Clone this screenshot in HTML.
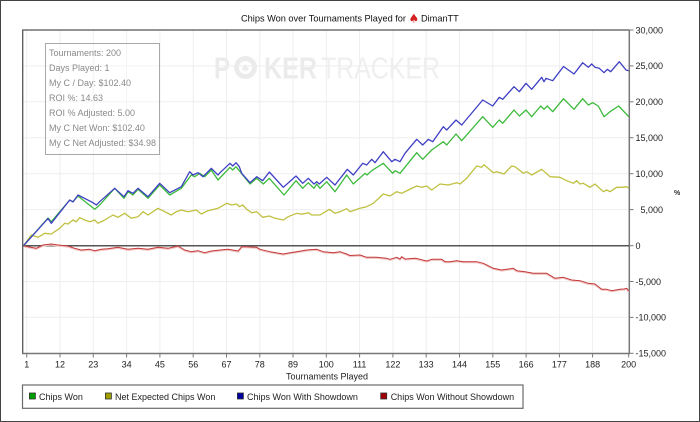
<!DOCTYPE html>
<html><head><meta charset="utf-8"><style>
html,body{margin:0;padding:0;background:#fff;}
svg{display:block;font-family:"Liberation Sans",Arial,sans-serif;}
</style></head><body>
<svg width="700" height="422" viewBox="0 0 700 422" xmlns="http://www.w3.org/2000/svg">
<rect x="0" y="0" width="700" height="422" fill="#fff"/>
<rect x="0.5" y="0.5" width="699" height="421" fill="none" stroke="#444" stroke-width="1"/>

<!-- title -->
<text x="241" y="21.5" font-size="9.2" fill="#111" textLength="165" lengthAdjust="spacingAndGlyphs">Chips Won over Tournaments Played for</text>
<text x="408.5" y="22.5" font-size="12" fill="#d42020" font-family="DejaVu Sans, sans-serif">♠</text>
<text x="421" y="21.5" font-size="9.2" fill="#111">DimanTT</text>

<!-- watermark -->
<g fill="#ebebeb">
<text x="214" y="78.7" font-size="31" font-weight="bold" textLength="16" lengthAdjust="spacingAndGlyphs">P</text>
<circle cx="245.5" cy="67.5" r="11.5" fill="#ebebeb"/>
<circle cx="245.5" cy="67.5" r="6.5" fill="#fff"/>
<text x="240.5" y="72" font-size="11" fill="#ebebeb" font-family="DejaVu Sans, sans-serif">♠</text>
<text x="264" y="78.7" font-size="31" font-weight="bold" textLength="53" lengthAdjust="spacingAndGlyphs">KER</text>
<text x="321" y="78.7" font-size="31" fill="#efefef" textLength="119" lengthAdjust="spacingAndGlyphs">TRACKER</text>
</g>

<!-- gridlines -->
<g stroke="#eeeeee" stroke-width="1">
<line x1="26.7" y1="30" x2="26.7" y2="353"/>
<line x1="60" y1="30" x2="60" y2="353"/>
<line x1="93.3" y1="30" x2="93.3" y2="353"/>
<line x1="126.6" y1="30" x2="126.6" y2="353"/>
<line x1="159.9" y1="30" x2="159.9" y2="353"/>
<line x1="193.2" y1="30" x2="193.2" y2="353"/>
<line x1="226.5" y1="30" x2="226.5" y2="353"/>
<line x1="259.8" y1="30" x2="259.8" y2="353"/>
<line x1="293" y1="30" x2="293" y2="353"/>
<line x1="326.3" y1="30" x2="326.3" y2="353"/>
<line x1="359.6" y1="30" x2="359.6" y2="353"/>
<line x1="392.9" y1="30" x2="392.9" y2="353"/>
<line x1="426.2" y1="30" x2="426.2" y2="353"/>
<line x1="459.5" y1="30" x2="459.5" y2="353"/>
<line x1="492.8" y1="30" x2="492.8" y2="353"/>
<line x1="526.1" y1="30" x2="526.1" y2="353"/>
<line x1="559.4" y1="30" x2="559.4" y2="353"/>
<line x1="592.6" y1="30" x2="592.6" y2="353"/>
<line x1="23" y1="65.9" x2="629" y2="65.9"/>
<line x1="23" y1="101.8" x2="629" y2="101.8"/>
<line x1="23" y1="137.7" x2="629" y2="137.7"/>
<line x1="23" y1="173.7" x2="629" y2="173.7"/>
<line x1="23" y1="209.6" x2="629" y2="209.6"/>
<line x1="23" y1="281.5" x2="629" y2="281.5"/>
<line x1="23" y1="317.4" x2="629" y2="317.4"/>
</g>

<!-- stats box -->
<rect x="45.5" y="43.5" width="114" height="111" fill="#fff" fill-opacity="0.35" stroke="#a8a8a8" stroke-width="1"/>
<g font-size="9" fill="#8a8a8a">
<text x="49" y="56">Tournaments: 200</text>
<text x="49" y="71">Days Played: 1</text>
<text x="49" y="86">My C / Day: $102.40</text>
<text x="49" y="101">ROI %: 14.63</text>
<text x="49" y="116">ROI % Adjusted: 5.00</text>
<text x="49" y="131">My C Net Won: $102.40</text>
<text x="49" y="146">My C Net Adjusted: $34.98</text>
</g>

<!-- frame -->
<line x1="22.5" y1="30" x2="629.3" y2="30" stroke="#555" stroke-width="1.2"/>
<line x1="22.7" y1="29.5" x2="22.7" y2="354" stroke="#555" stroke-width="1.3"/>
<line x1="22" y1="353.5" x2="630" y2="353.5" stroke="#777" stroke-width="1.5"/>
<line x1="629.3" y1="29.5" x2="629.3" y2="354" stroke="#777" stroke-width="1.5"/>
<line x1="22.5" y1="245.7" x2="629.3" y2="245.7" stroke="#555" stroke-width="1.5"/>

<!-- red series -->
<polyline fill="none" stroke="#f0c4c4" stroke-width="2" stroke-linejoin="round" transform="translate(0,0.6)" points="23.5,245.7 28,246.7 36.3,248.3 43,245 51.3,244 58,245 68,246 74.7,248.3 81.3,250 89.7,249.3 94.7,250.7 101.3,249.3 108,248.7 118,247.3 128,249.3 138,248.3 148,249.3 158,247.3 168,248.3 178,246 184.7,250 191.3,251.7 198,250.7 204.7,252.7 211.3,251 220,250 228,249.3 238.3,251 241.7,246.7 246.7,246.7 256.7,247.3 260,249.3 270,251.7 283.3,254 290,252.7 296.7,251.7 306.7,250 316.7,249.3 323.3,251.7 333.3,252.7 340,251.7 346.7,254 350,255.5 360,255 366.7,257.3 376.7,257.3 386.7,258.3 390,259.3 396.7,257.3 400,259 401.7,256.7 405,259 415,258.3 420,259.3 426.7,261 431.7,259.3 441.7,259.3 445,261.7 450,261.7 456.7,260.7 463.3,261.7 476.7,261.7 483.3,263.3 493.3,268.3 501.7,270 506.7,269.3 513.3,268.3 516.7,270.7 525,271.7 533.3,273.3 546.7,273.3 555,278.3 563.3,277.3 571.7,280 580,280.7 588.3,283.3 595,284 601.7,289.3 606.7,289.3 611.7,290.7 620,289.3 624,289 626.7,288.3 628.7,291"/>
<polyline fill="none" stroke="#c43c3c" stroke-width="1" stroke-linejoin="round" points="23.5,245.7 28,246.7 36.3,248.3 43,245 51.3,244 58,245 68,246 74.7,248.3 81.3,250 89.7,249.3 94.7,250.7 101.3,249.3 108,248.7 118,247.3 128,249.3 138,248.3 148,249.3 158,247.3 168,248.3 178,246 184.7,250 191.3,251.7 198,250.7 204.7,252.7 211.3,251 220,250 228,249.3 238.3,251 241.7,246.7 246.7,246.7 256.7,247.3 260,249.3 270,251.7 283.3,254 290,252.7 296.7,251.7 306.7,250 316.7,249.3 323.3,251.7 333.3,252.7 340,251.7 346.7,254 350,255.5 360,255 366.7,257.3 376.7,257.3 386.7,258.3 390,259.3 396.7,257.3 400,259 401.7,256.7 405,259 415,258.3 420,259.3 426.7,261 431.7,259.3 441.7,259.3 445,261.7 450,261.7 456.7,260.7 463.3,261.7 476.7,261.7 483.3,263.3 493.3,268.3 501.7,270 506.7,269.3 513.3,268.3 516.7,270.7 525,271.7 533.3,273.3 546.7,273.3 555,278.3 563.3,277.3 571.7,280 580,280.7 588.3,283.3 595,284 601.7,289.3 606.7,289.3 611.7,290.7 620,289.3 624,289 626.7,288.3 628.7,291"/>

<!-- yellow series -->
<polyline fill="none" stroke="#c0c040" stroke-width="1.3" stroke-linejoin="round" points="23.5,245.7 31.3,235 38,237.3 44.7,233.3 51.3,234 59.7,228.3 64.7,223.3 68,224 73,220 76.3,221.7 79.7,217.7 84.7,220 89.7,221.7 94.7,220 98,223.3 104.7,220 113,215 118,217.3 124.7,213.3 131.3,218.3 138,216.7 143,211.7 148,215 158,208.3 164.7,211.7 171.3,215 176.3,211.7 181.3,210 188,211.7 196.3,210 201.3,214 208,210.7 218,208.3 226.7,203.3 231.7,205 236.7,204 239.3,206.7 242.7,205 246.7,209.3 251.7,212.7 256.7,211.7 262.7,217.3 269.3,216 275,218.3 283.3,220 288.3,216.7 296.7,213.3 301.7,214.3 308.3,212.7 311.7,215 320,215 329.3,209.3 335,213.3 340,211.7 346.7,208.7 350,211.7 360,208.3 366.7,206.7 373.3,203.3 383.3,194 390,196 396.7,191.7 401.7,193.3 408.3,190 416.7,186 421.7,187.3 426.7,186 431.7,190 440,184 448.3,185 456.7,182.7 460,184 466.7,178.3 476.7,166 481.7,167.3 484,164.7 493.3,172.7 496.7,171.7 504,174 511.7,166 515,166.7 523.3,173.3 526.7,171.7 531.7,175 541.7,169.3 550,176.7 560,177.3 566.7,180.7 573.3,183.3 576.7,180.7 580,184 583.3,183.3 590,187.3 595,184 603.3,191.7 606.7,190 610,191.7 616.7,187.3 621.7,187.3 626.7,186.7 628.7,188.3"/>

<!-- green series -->
<polyline fill="none" stroke="#3cba3c" stroke-width="1.3" stroke-linejoin="round" points="23.5,245.7 48,218 51.3,221.7 69.7,200 73,201.7 78,196 94.7,209.3 99.7,205 114.7,188.3 124,198.3 128,191.7 133,195 138,189.3 148,198.3 159.7,185 169.7,195 181.3,188.3 191.3,175 194.7,176.7 199.7,173.3 204.7,176.7 211.3,170 218,180 230,167.3 232.7,170 236,166.7 250,184 256.7,178.3 263.3,184 269.3,178.3 284,195 296,180.7 302.7,188.3 308.3,182.7 314,188.3 316.7,184 320,188.3 326.7,181.7 335,191.7 346.7,175 353.3,184 365,173.3 367,175 371.7,170.7 383.3,163.3 392.7,173.3 395,170.7 400,173.3 416.7,152.7 422.7,159.3 431.7,150 443.3,141.7 446.7,145 456,134 461.7,140.7 482.7,116.7 492.7,127.3 499.3,120 502.7,123.3 514,110 519.3,116 526,110 531.7,116.7 540.7,106 544,109.3 547.3,106 552.7,111.7 563.5,98.7 574,109.3 582.7,98.7 588.3,105 592.7,102.7 598.3,106 604,116.7 610,111.7 618.7,106 628.7,116.7"/>

<!-- blue series -->
<polyline fill="none" stroke="#4040c4" stroke-width="1.3" stroke-linejoin="round" points="23.5,245.7 48,218.5 51.3,223.3 69.7,200 73,202 78,195 93,202.7 96.3,205 99.7,201.7 114.7,188.3 124,196.7 128,190.7 133,193.3 138,188.3 148,196.7 159.7,183.3 169.7,192.7 181.3,186.7 189.7,171.7 193,175 198,172.7 203,176.7 211.3,168.3 218,175 220,172.7 230,163.3 232.7,166 236,162.7 239.3,166.7 241.7,173.3 250,182.7 256.7,176.7 262.7,180.7 269.3,172 283.3,187.3 296,176 302.7,183.3 308.3,178.3 314,184 316.7,181.7 319.3,184 326.7,177.3 335,185 347.3,169.3 353.3,175 362.7,163.3 366.7,165 371.7,159.3 375,162.7 383.3,151.7 391.7,161.7 395,159.3 400,161.7 405,153.3 416.7,139.3 422.7,145 428.3,139.3 432.7,141.7 443.3,126.7 446.7,130 456,120 461.7,125 482.7,100 492.7,106 499.3,97.3 502.7,99.3 514,86.7 519.3,91.7 526,83.3 531.7,89.3 541.7,77.3 544,81.7 546,78.3 552.7,80.7 563.5,66.5 574,74 582.7,62.7 588.3,67.3 591.7,64 595,67.3 599.3,68.3 604,72.7 607.3,69.3 610.7,71.7 619.3,61.7 626,70 628.7,70.7"/>

<!-- y ticks & labels -->
<g stroke="#777" stroke-width="1">
<line x1="629" y1="30" x2="633.5" y2="30"/>
<line x1="629" y1="65.9" x2="633.5" y2="65.9"/>
<line x1="629" y1="101.8" x2="633.5" y2="101.8"/>
<line x1="629" y1="137.7" x2="633.5" y2="137.7"/>
<line x1="629" y1="173.7" x2="633.5" y2="173.7"/>
<line x1="629" y1="209.6" x2="633.5" y2="209.6"/>
<line x1="629" y1="245.7" x2="633.5" y2="245.7"/>
<line x1="629" y1="281.5" x2="633.5" y2="281.5"/>
<line x1="629" y1="317.4" x2="633.5" y2="317.4"/>
<line x1="629" y1="353.3" x2="633.5" y2="353.3"/>
</g>
<g font-size="9" fill="#222">
<text x="635.5" y="33.3">30,000</text>
<text x="635.5" y="69.2">25,000</text>
<text x="635.5" y="105.1">20,000</text>
<text x="635.5" y="141">15,000</text>
<text x="635.5" y="177">10,000</text>
<text x="640.5" y="212.9">5,000</text>
<text x="635.5" y="249">0</text>
<text x="635.5" y="284.8">-5,000</text>
<text x="635.5" y="320.7">-10,000</text>
<text x="635.5" y="356.6">-15,000</text>
</g>
<text x="674" y="195" font-size="7" font-weight="bold" fill="#333">%</text>

<!-- x ticks & labels -->
<g stroke="#777" stroke-width="1">
<line x1="26.7" y1="353" x2="26.7" y2="357.5"/>
<line x1="60" y1="353" x2="60" y2="357.5"/>
<line x1="93.3" y1="353" x2="93.3" y2="357.5"/>
<line x1="126.6" y1="353" x2="126.6" y2="357.5"/>
<line x1="159.9" y1="353" x2="159.9" y2="357.5"/>
<line x1="193.2" y1="353" x2="193.2" y2="357.5"/>
<line x1="226.5" y1="353" x2="226.5" y2="357.5"/>
<line x1="259.8" y1="353" x2="259.8" y2="357.5"/>
<line x1="293" y1="353" x2="293" y2="357.5"/>
<line x1="326.3" y1="353" x2="326.3" y2="357.5"/>
<line x1="359.6" y1="353" x2="359.6" y2="357.5"/>
<line x1="392.9" y1="353" x2="392.9" y2="357.5"/>
<line x1="426.2" y1="353" x2="426.2" y2="357.5"/>
<line x1="459.5" y1="353" x2="459.5" y2="357.5"/>
<line x1="492.8" y1="353" x2="492.8" y2="357.5"/>
<line x1="526.1" y1="353" x2="526.1" y2="357.5"/>
<line x1="559.4" y1="353" x2="559.4" y2="357.5"/>
<line x1="592.6" y1="353" x2="592.6" y2="357.5"/>
<line x1="628.7" y1="353" x2="628.7" y2="357.5"/>
</g>
<g font-size="9" fill="#222" text-anchor="middle">
<text x="26.7" y="367.3">1</text>
<text x="60" y="367.3">12</text>
<text x="93.3" y="367.3">23</text>
<text x="126.6" y="367.3">34</text>
<text x="159.9" y="367.3">45</text>
<text x="193.2" y="367.3">56</text>
<text x="226.5" y="367.3">67</text>
<text x="259.8" y="367.3">78</text>
<text x="293" y="367.3">89</text>
<text x="326.3" y="367.3">100</text>
<text x="359.6" y="367.3">111</text>
<text x="392.9" y="367.3">122</text>
<text x="426.2" y="367.3">133</text>
<text x="459.5" y="367.3">144</text>
<text x="492.8" y="367.3">155</text>
<text x="526.1" y="367.3">166</text>
<text x="559.4" y="367.3">177</text>
<text x="592.6" y="367.3">188</text>
<text x="628.7" y="367.3">200</text>
<text x="327" y="379.5">Tournaments Played</text>
</g>

<!-- legend -->
<rect x="22.5" y="385" width="500.5" height="23.3" fill="#fff" stroke="#6a6a6a" stroke-width="1.2"/>
<g stroke="#333" stroke-width="0.8">
<rect x="29.4" y="393" width="6" height="6" fill="#00a000"/>
<rect x="105.4" y="393" width="6" height="6" fill="#a0a000"/>
<rect x="237.4" y="393" width="6" height="6" fill="#0000a0"/>
<rect x="380.7" y="393" width="6" height="6" fill="#a00000"/>
</g>
<g font-size="9" fill="#222">
<text x="39" y="399.8">Chips Won</text>
<text x="115" y="399.8">Net Expected Chips Won</text>
<text x="247" y="399.8">Chips Won With Showdown</text>
<text x="390.7" y="399.8">Chips Won Without Showdown</text>
</g>
</svg>
</body></html>
